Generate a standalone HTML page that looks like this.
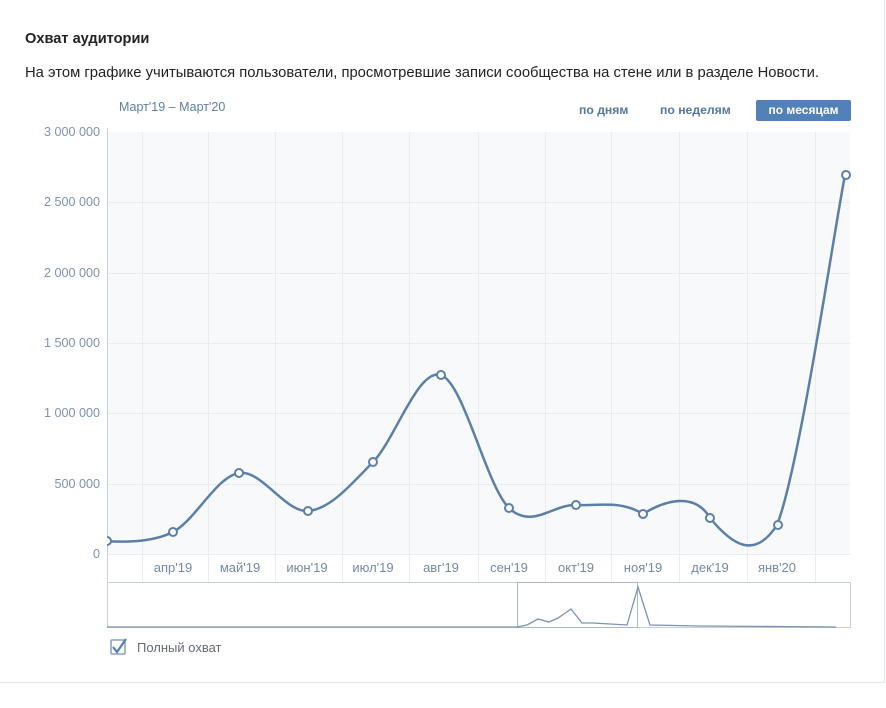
<!DOCTYPE html>
<html><head><meta charset="utf-8"><style>
body{margin:0;width:886px;height:708px;background:#fff;font-family:"Liberation Sans",sans-serif;position:relative;overflow:hidden}
.t{position:absolute;white-space:nowrap}
</style></head><body>
<div class="t" style="left:25px;top:31px;font-size:14.6px;font-weight:bold;color:#222">Охват аудитории</div>
<div class="t" style="left:25px;top:65px;font-size:14.8px;color:#222">На этом графике учитываются пользователи, просмотревшие записи сообщества на стене или в разделе Новости.</div>
<div class="t" style="left:119px;top:100px;font-size:12.5px;color:#5d7fa5">Март'19 – Март'20</div>
<div class="t" style="left:579px;top:103px;font-size:12.2px;font-weight:bold;color:#55779c">по дням</div>
<div class="t" style="left:660px;top:103px;font-size:12.2px;font-weight:bold;color:#55779c">по неделям</div>
<div class="t" style="left:756px;top:100px;width:95px;height:21px;background:#5181b8;border-radius:2px;color:#fff;font-size:12px;font-weight:bold;line-height:21px;text-align:center">по месяцам</div>
<svg width="886" height="708" style="position:absolute;left:0;top:0">
<defs><clipPath id="c"><rect x="107" y="120" width="750" height="440"/></clipPath></defs>
<rect x="107" y="132" width="743" height="422" fill="#f8f9fa"/>
<g stroke="#e9ecf1" stroke-width="1">
<line x1="107" y1="202.5" x2="850" y2="202.5"/><line x1="107" y1="273.5" x2="850" y2="273.5"/><line x1="107" y1="343.5" x2="850" y2="343.5"/><line x1="107" y1="413.5" x2="850" y2="413.5"/><line x1="107" y1="484.5" x2="850" y2="484.5"/><line x1="107" y1="554.5" x2="850" y2="554.5"/>
<line x1="142.5" y1="132" x2="142.5" y2="582"/><line x1="208.5" y1="132" x2="208.5" y2="582"/><line x1="275.5" y1="132" x2="275.5" y2="582"/><line x1="342.5" y1="132" x2="342.5" y2="582"/><line x1="409.5" y1="132" x2="409.5" y2="582"/><line x1="478.5" y1="132" x2="478.5" y2="582"/><line x1="545.5" y1="132" x2="545.5" y2="582"/><line x1="611.5" y1="132" x2="611.5" y2="582"/><line x1="679.5" y1="132" x2="679.5" y2="582"/><line x1="747.5" y1="132" x2="747.5" y2="582"/><line x1="815.5" y1="132" x2="815.5" y2="582"/>
</g>
<line x1="107.5" y1="128" x2="107.5" y2="628" stroke="#c5d0db"/>
<g font-size="12.6" fill="#7f92aa" text-anchor="end">
<text x="100" y="136">3 000 000</text><text x="100" y="206">2 500 000</text><text x="100" y="277">2 000 000</text><text x="100" y="347">1 500 000</text><text x="100" y="417">1 000 000</text><text x="100" y="488">500 000</text><text x="100" y="558">0</text>
</g>
<g font-size="13" fill="#7489a4" text-anchor="middle">
<text x="173" y="572">апр'19</text><text x="240" y="572">май'19</text><text x="307" y="572">июн'19</text><text x="373" y="572">июл'19</text><text x="441" y="572">авг'19</text><text x="509" y="572">сен'19</text><text x="576" y="572">окт'19</text><text x="643" y="572">ноя'19</text><text x="710" y="572">дек'19</text><text x="777" y="572">янв'20</text>
</g>
<rect x="107.5" y="582.5" width="743" height="45" fill="none" stroke="#c5d0db"/>
<rect x="517.5" y="582.5" width="120" height="45" fill="none" stroke="#a9b8c8"/>
<polyline fill="none" stroke="#7b93b2" stroke-width="1.3" points="107,627 490,627 517,627 527,625 538,619 549,622 558,618 571,609 582,623 593,623 627,625 638,587 650,625 700,626 836,627"/>
<g clip-path="url(#c)">
<path fill="none" stroke="#5b7fa8" stroke-width="2.5" d="M107,541 C118,542 151,543.3 173,532 C195,520.7 216.5,476.5 239,473 C261.5,469.5 285.7,512.8 308,511 C330.3,509.2 350.8,484.7 373,462 C395.2,439.3 418.3,367.3 441,375 C463.7,382.7 486.5,486.3 509,508 C531.5,529.7 553.7,504 576,505 C598.3,506 620.7,500 643,514 C665.3,500 695,492 710,518 C732.3,545 754.5,560 777,525 C799.5,468 835,225 845,175"/>
<g fill="#fff" stroke="#5b7fa8" stroke-width="2">
<circle cx="173" cy="532" r="4"/><circle cx="239" cy="473" r="4"/><circle cx="308" cy="511" r="4"/><circle cx="373" cy="462" r="4"/><circle cx="441" cy="375" r="4"/><circle cx="509" cy="508" r="4"/><circle cx="576" cy="505" r="4"/><circle cx="643" cy="514" r="4"/><circle cx="710" cy="518" r="4"/><circle cx="778" cy="525" r="4"/><circle cx="846" cy="175" r="4"/><circle cx="107" cy="541" r="4"/>
</g></g>
<rect x="111" y="640" width="14" height="14" fill="#fff" stroke="#8aa0b8" stroke-width="1.5" rx="1"/>
<polyline points="113,647 117,652 126,639" fill="none" stroke="#5181b8" stroke-width="2.2"/>
<text x="137" y="652" font-size="13" fill="#656b73">Полный охват</text>
<line x1="0" y1="682.5" x2="884" y2="682.5" stroke="#e3e6ea"/>
<line x1="884.5" y1="0" x2="884.5" y2="683" stroke="#e3e6ea"/>
</svg>
</body></html>
